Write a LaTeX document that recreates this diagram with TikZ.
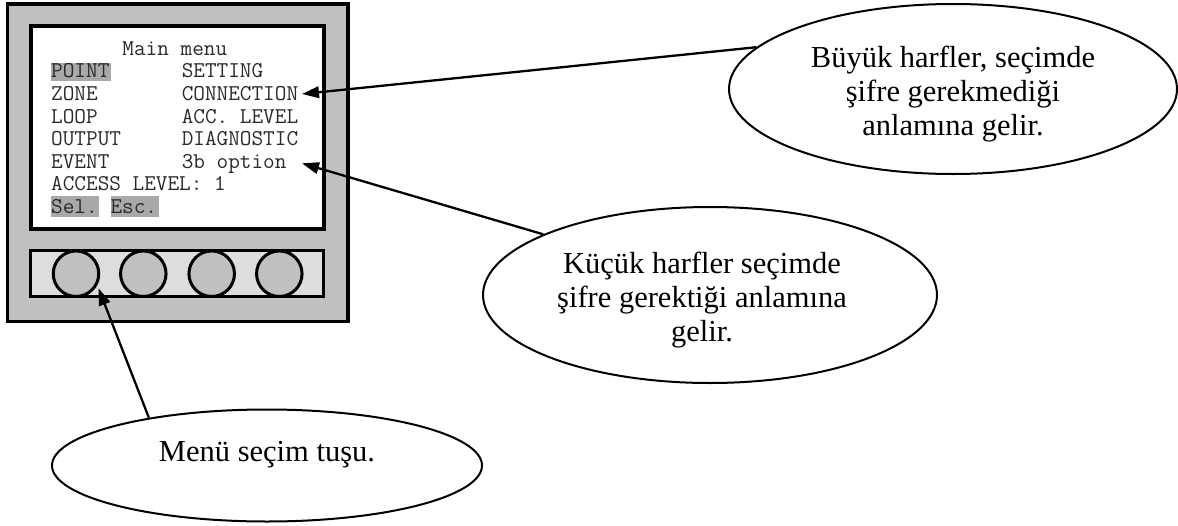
\documentclass[tikz,border=0pt]{standalone}
\usepackage{fontspec}
\setmainfont{Liberation Serif}
\usetikzlibrary{shapes.geometric,arrows.meta}
\definecolor{casegray}{HTML}{C0C0C0}
\definecolor{bargray}{HTML}{DDDDDD}
\definecolor{keygray}{HTML}{C0C0C0}
\definecolor{hilitegray}{HTML}{A9A9A9}
\definecolor{lcdink}{HTML}{2A2A2A}
\tikzset{
  lcd/.style={font=\ttfamily\fontsize{22.6}{22.6}\selectfont, text=lcdink, anchor=base west, inner sep=0pt},
  hilite/.style={fill=hilitegray, draw=none},
  callout/.style={ellipse, draw, line width=2pt, fill=white, inner sep=0pt},
  calltext/.style={font=\fontsize{30.5}{34}\selectfont, anchor=base, inner sep=0pt},
  pointer/.style={line width=2.3pt, -{Triangle[length=17pt,width=11.5pt]}},
  key/.style={circle, draw, line width=3pt, fill=keygray, minimum size=45.5pt, inner sep=0pt},
}
\begin{document}
\begin{tikzpicture}[x=1pt,y=-1pt]
\useasboundingbox (0,0) rectangle (1178,525);
% panel body, display and key strip
\draw[line width=3.2pt, fill=casegray] (7.7,4) rectangle (348,321.7);
\draw[line width=4pt, fill=white] (30.7,26) rectangle (324,229.3);
\draw[line width=3pt, fill=bargray] (30.7,250.7) rectangle (323.3,296);
\foreach \i/\x in {1/76,2/143.3,3/211.7,4/279.3}
  \node[key] (key\i) at (\x,273.7) {};
% highlighted soft-key fields
\fill[hilite] (51,63) rectangle (111,81);
\fill[hilite] (51,196) rectangle (99,217);
\fill[hilite] (111,196) rectangle (159,217);
% display text (monospaced rows)
\def\cw{11.87}
\node[lcd] (title) at (51+6*\cw,55.3) {Main menu};
\node[lcd] (l1) at (51,77.9) {POINT};
\node[lcd] (r1) at (51+11*\cw,77.9) {SETTING};
\node[lcd] (l2) at (51,100.5) {ZONE};
\node[lcd] (r2) at (51+11*\cw,100.5) {CONNECTION};
\node[lcd] (l3) at (51,123.1) {LOOP};
\node[lcd] (r3) at (51+11*\cw,123.1) {ACC. LEVEL};
\node[lcd] (l4) at (51,145.7) {OUTPUT};
\node[lcd] (r4) at (51+11*\cw,145.7) {DIAGNOSTIC};
\node[lcd] (l5) at (51,168.3) {EVENT};
\node[lcd] (r5) at (51+11*\cw,168.3) {3b option};
\node[lcd] (acc) at (51,190.9) {ACCESS LEVEL: 1};
\node[lcd] (sel) at (51,213.5) {Sel.};
\node[lcd] (esc) at (51+5*\cw,213.5) {Esc.};
% callouts
\node[callout, minimum width=448pt, minimum height=170pt] (upper) at (953,89) {};
\node[calltext] (upper1) at (953,67) {Büyük harfler, seçimde};
\node[calltext] (upper2) at (953,101) {şifre gerekmediği};
\node[calltext] (upper3) at (953,135) {anlamına gelir.};
\node[callout, minimum width=454pt, minimum height=176pt] (lower) at (710,295) {};
\node[calltext] (lower1) at (702,273) {Küçük harfler seçimde};
\node[calltext] (lower2) at (702,307) {şifre gerektiği anlamına};
\node[calltext] (lower3) at (702,341) {gelir.};
\node[callout, minimum width=430pt, minimum height=112pt] (keynote) at (267,465.5) {};
\node[calltext] (keynote1) at (267,461.7) {Menü seçim tuşu.};
% pointer targets
\coordinate (connTip) at (302,94);
\coordinate (optTip) at (302,163.3);
\coordinate (keyTip) at (98.5,288.3);
\draw[pointer] (upper.168) -- (connTip);
\draw[pointer] (lower.160.5) -- (optTip);
\draw[pointer] (keynote.158.4) -- (keyTip);
\end{tikzpicture}
\end{document}
